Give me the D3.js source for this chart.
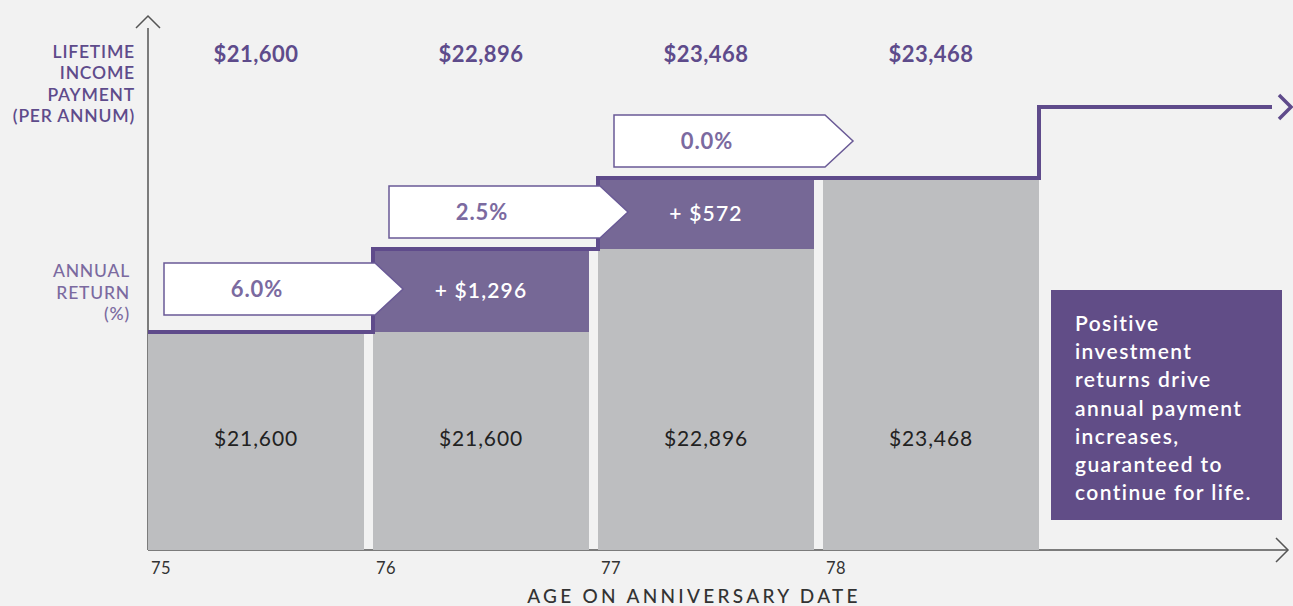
<!DOCTYPE html>
<html>
<head>
<meta charset="utf-8">
<script src="https://cdn.jsdelivr.net/npm/d3@7"></script>
<style>
  html, body { margin: 0; padding: 0; background: #f2f2f2; }
  svg { display: block; font-family: Lato, "Open Sans", sans-serif; }
</style>
</head>
<body>
<svg id="chart" width="1293" height="606"></svg>
<script>
// ---------- data ----------
const ages = [75, 76, 77, 78];
const payments = [21600, 22896, 23468, 23468];        // lifetime income payment per annum
const basePayments = [21600, 21600, 22896, 23468];    // previous year's payment (grey part)
const increases = [0, 1296, 572, 0];                  // increase added at the anniversary
const annualReturns = [6.0, 2.5, 0.0];                // return during year -> drives next increase
const yLabelTop = ["LIFETIME", "INCOME", "PAYMENT", "(PER ANNUM)"];
const yLabelMid = ["ANNUAL", "RETURN", "(%)"];
const xTitle = "AGE ON ANNIVERSARY DATE";
const noteLines = ["Positive", "investment", "returns drive", "annual payment", "increases,", "guaranteed to", "continue for life."];

// ---------- styling ----------
const C = {
  bg: "#f2f2f2", grey: "#bdbec0", purple: "#766896", line: "#5f4b8b",
  dark: "#5e4b8b", light: "#7b6aa0", axis: "#555555", text: "#222222", note: "#614d87"
};

const svg = d3.select("#chart");
const x0 = 148, baseY = 550;

// age scale (each year = one column)
const x = d3.scaleLinear().domain([75, 80]).range([x0, x0 + 5 * 225]);
const step = x(76) - x(75);
const barW = step - 9;

// illustrative (non-proportional) payment scale, as in the original graphic
const y = d3.scaleLinear()
  .domain([20000, 21600, 22896, 23468])
  .range([baseY, 332, 249, 178]);
const fmt = d3.format("$,");

// ---------- axes ----------
svg.append("line").attr("x1", x0).attr("x2", 1287).attr("y1", baseY).attr("y2", baseY)
  .attr("stroke", C.axis).attr("stroke-width", 1.5);
svg.append("path").attr("d", `M1276,538 L1288,550 L1276,562`).attr("fill", "none")
  .attr("stroke", C.axis).attr("stroke-width", 1.5);
svg.append("line").attr("x1", x0).attr("x2", x0).attr("y1", baseY).attr("y2", 28)
  .attr("stroke", C.axis).attr("stroke-width", 1.5);
svg.append("path").attr("d", `M136,28 L148,16 L160,28`).attr("fill", "none")
  .attr("stroke", C.axis).attr("stroke-width", 1.5);

// tick labels
svg.append("g").selectAll("text").data(ages).join("text")
  .attr("x", d => x(d) + 3).attr("y", 574)
  .attr("font-size", 16.5).attr("letter-spacing", 0.4).attr("fill", "#333").text(d => d);

svg.append("text").attr("x", 694).attr("y", 603).attr("text-anchor", "middle")
  .attr("font-size", 19).attr("font-weight", 500).attr("letter-spacing", 3.3)
  .attr("fill", "#333").text(xTitle);

// ---------- bars ----------
svg.append("g").selectAll("rect").data(ages).join("rect")
  .attr("x", d => x(d)).attr("width", barW)
  .attr("y", (d, i) => y(basePayments[i]))
  .attr("height", (d, i) => baseY - y(basePayments[i]))
  .attr("fill", C.grey);

svg.append("g").selectAll("rect").data(ages.filter((d, i) => increases[i] > 0)).join("rect")
  .attr("x", d => x(d)).attr("width", barW)
  .attr("y", d => y(payments[ages.indexOf(d)]))
  .attr("height", d => { const i = ages.indexOf(d); return y(basePayments[i]) - y(payments[i]); })
  .attr("fill", C.purple);

// grey bar values
svg.append("g").selectAll("text").data(ages).join("text")
  .attr("x", d => x(d) + barW / 2).attr("y", 446).attr("text-anchor", "middle")
  .attr("font-size", 21).attr("letter-spacing", 0.9).attr("fill", C.text)
  .text((d, i) => fmt(basePayments[i]));

// increase labels
svg.append("g").selectAll("text").data(ages.filter((d, i) => increases[i] > 0)).join("text")
  .attr("x", d => x(d) + barW / 2)
  .attr("y", d => { const i = ages.indexOf(d); return (y(basePayments[i]) + y(payments[i])) / 2 + 7; })
  .attr("text-anchor", "middle").attr("font-size", 21).attr("font-weight", 600)
  .attr("letter-spacing", 1.2).attr("fill", "#fff")
  .text(d => "+ " + fmt(increases[ages.indexOf(d)]));

// ---------- step line ----------
const levels = payments.map(p => y(p));
const contY = levels[3] - (levels[1] - levels[2]);   // continuation step
let dStep = `M${x0},${levels[0]}`;
for (let i = 1; i < ages.length; i++) {
  dStep += ` L${x(ages[i])},${levels[i - 1]} L${x(ages[i])},${levels[i]}`;
}
const endX = x(78) + barW;
dStep += ` L${endX},${levels[3]} L${endX},${contY} L1272,${contY}`;
svg.append("path").attr("d", dStep).attr("fill", "none")
  .attr("stroke", C.line).attr("stroke-width", 4).attr("stroke-linejoin", "miter");
svg.append("path").attr("d", `M1279,${contY - 12} L1291,${contY} L1279,${contY + 12}`)
  .attr("fill", "none").attr("stroke", C.line).attr("stroke-width", 3.5);

// ---------- return arrow boxes ----------
const nextLevel = [levels[1], levels[2], contY];
const boxes = svg.append("g").selectAll("g").data(annualReturns).join("g");
boxes.append("path")
  .attr("d", (d, i) => {
    const cy = (levels[i] + nextLevel[i]) / 2 - 1.5;
    const l = x(ages[i]) + 16, r = x(ages[i + 1]) + 2, t = r + 28, h = 26;
    return `M${l},${cy - h} L${r},${cy - h} L${t},${cy} L${r},${cy + h} L${l},${cy + h} Z`;
  })
  .attr("fill", "#fff").attr("stroke", "#6a5a96").attr("stroke-width", 1.5);
boxes.append("text")
  .attr("x", (d, i) => x(ages[i]) + barW / 2 + 1)
  .attr("y", (d, i) => (levels[i] + nextLevel[i]) / 2 - 1.5 + 7.5)
  .attr("text-anchor", "middle").attr("font-size", 22).attr("font-weight", 700)
  .attr("letter-spacing", 0.9).attr("fill", C.light).text(d => d.toFixed(1) + "%");

// ---------- header row ----------
svg.append("g").selectAll("text").data(ages).join("text")
  .attr("x", d => x(d) + barW / 2).attr("y", 62).attr("text-anchor", "middle")
  .attr("font-size", 22).attr("font-weight", 700).attr("letter-spacing", 0.5).attr("fill", C.dark)
  .text((d, i) => fmt(payments[i]));

// ---------- left labels ----------
svg.append("g").selectAll("text").data(yLabelTop).join("text")
  .attr("x", 135).attr("y", (d, i) => 58 + i * 21.3).attr("text-anchor", "end")
  .attr("font-size", 17.5).attr("font-weight", 600).attr("letter-spacing", 0.8)
  .attr("fill", C.dark).text(d => d);
svg.append("g").selectAll("text").data(yLabelMid).join("text")
  .attr("x", 130).attr("y", (d, i) => 277 + i * 21.5).attr("text-anchor", "end")
  .attr("font-size", 17.5).attr("font-weight", 500).attr("letter-spacing", 0.8)
  .attr("fill", C.light).text(d => d);

// ---------- note box ----------
svg.append("rect").attr("x", 1051).attr("y", 290).attr("width", 231).attr("height", 230).attr("fill", C.note);
svg.append("g").selectAll("text").data(noteLines).join("text")
  .attr("x", 1075).attr("y", (d, i) => 331 + i * 28.2)
  .attr("font-size", 21).attr("font-weight", 600).attr("letter-spacing", 1.4)
  .attr("fill", "#fff").text(d => d);
</script>
</body>
</html>
